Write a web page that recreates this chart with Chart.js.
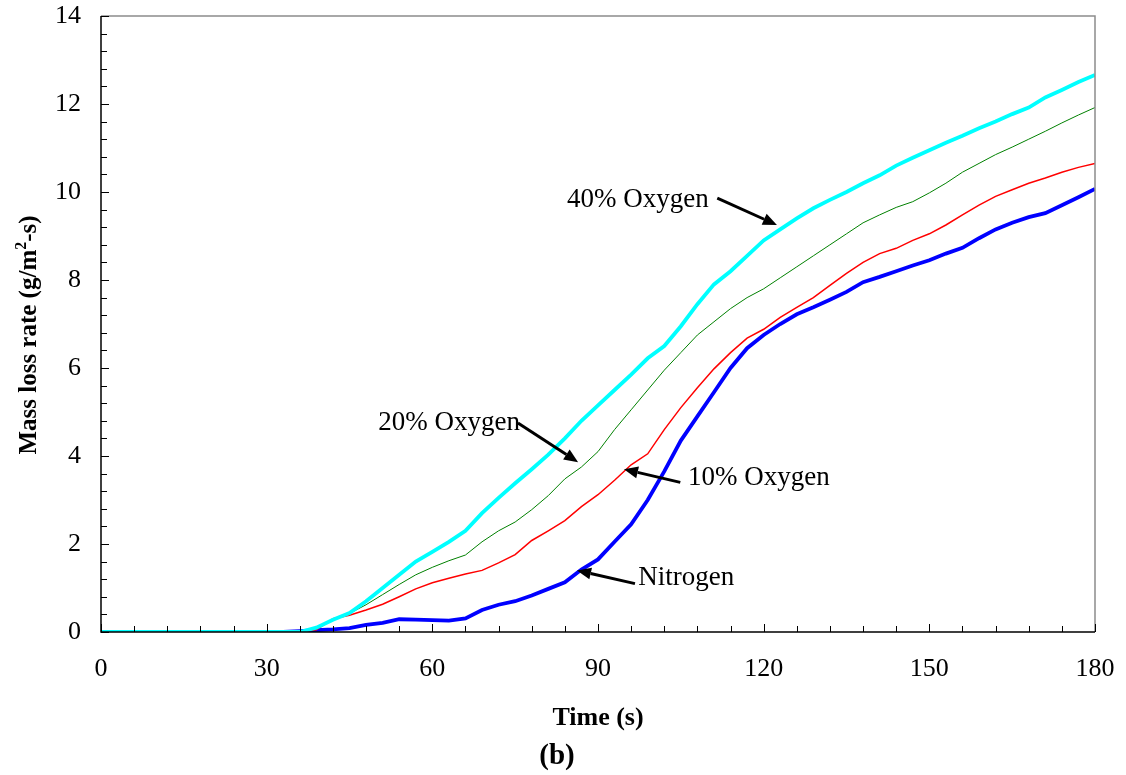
<!DOCTYPE html>
<html>
<head>
<meta charset="utf-8">
<script src="https://cdn.jsdelivr.net/npm/chart.js@4.4.1/dist/chart.umd.min.js"></script>
<style>
html,body{margin:0;padding:0;background:#fff;}
#wrap{position:relative;width:1126px;height:775px;}
</style>
</head>
<body>
<div id="wrap"><canvas id="c" width="1126" height="775"></canvas></div>
<script>
// ---- data ----
const times = [0,3,6,9,12,15,18,21,24,27,30,33,36,39,42,45,48,51,54,57,60,63,66,69,72,75,78,81,84,87,90,93,96,99,102,105,108,111,114,117,120,123,126,129,132,135,138,141,144,147,150,153,156,159,162,165,168,171,174,177,180];
const nitrogen = [0,0,0,0,0,0,0,0,0,0,0,0,0.02,0.04,0.06,0.09,0.16,0.21,0.29,0.28,0.27,0.26,0.31,0.5,0.62,0.7,0.83,0.98,1.13,1.42,1.65,2.05,2.45,3.0,3.65,4.35,4.9,5.45,6.0,6.45,6.75,7.0,7.22,7.38,7.55,7.73,7.95,8.07,8.2,8.33,8.45,8.6,8.73,8.95,9.15,9.3,9.43,9.52,9.7,9.88,10.07];
const oxygen10 = [0,0,0,0,0,0,0,0,0,0,0,0,0,0.05,0.3,0.38,0.5,0.63,0.8,0.98,1.12,1.22,1.32,1.4,1.57,1.76,2.08,2.3,2.53,2.85,3.12,3.45,3.8,4.05,4.6,5.1,5.55,5.98,6.35,6.68,6.88,7.15,7.38,7.6,7.88,8.15,8.4,8.6,8.72,8.9,9.05,9.25,9.48,9.7,9.9,10.05,10.2,10.32,10.45,10.56,10.65];
const oxygen20 = [0,0,0,0,0,0,0,0,0,0,0,0,0,0.1,0.28,0.42,0.62,0.85,1.08,1.3,1.47,1.62,1.75,2.05,2.3,2.5,2.78,3.1,3.48,3.75,4.1,4.6,5.05,5.5,5.95,6.35,6.75,7.05,7.35,7.6,7.8,8.05,8.3,8.55,8.8,9.05,9.3,9.48,9.65,9.78,9.98,10.2,10.45,10.65,10.85,11.02,11.2,11.38,11.57,11.75,11.92];
const oxygen40 = [0,0,0,0,0,0,0,0,0,0,0,0,0,0.1,0.28,0.43,0.7,1.0,1.3,1.6,1.82,2.05,2.3,2.7,3.05,3.38,3.7,4.03,4.4,4.8,5.15,5.5,5.85,6.22,6.5,6.95,7.45,7.9,8.2,8.55,8.9,9.15,9.4,9.63,9.82,10.0,10.2,10.38,10.6,10.78,10.95,11.12,11.28,11.45,11.6,11.77,11.92,12.15,12.32,12.5,12.66];
const xTicks = [0,30,60,90,120,150,180];
const yTicks = [0,2,4,6,8,10,12,14];
const xLabel = "Time (s)";
const yLabelMain = "Mass loss rate (g/m";
const yLabelSup = "2";
const yLabelEnd = "-s)";
const panelLabel = "(b)";
const labels = ["40% Oxygen","20% Oxygen","10% Oxygen","Nitrogen"];
// annotation anchors in data units
const notes = [
  {text:"40% Oxygen", tx:84.4, ty:9.82, ax0:111.6, ay0:9.86, ax1:122.4, ay1:9.25},
  {text:"20% Oxygen", tx:50.2, ty:4.75, ax0:75.5, ay0:4.75, ax1:86.4, ay1:3.86},
  {text:"10% Oxygen", tx:106.3, ty:3.5, ax0:104.9, ay0:3.4, ax1:94.7, ay1:3.7},
  {text:"Nitrogen", tx:97.3, ty:1.23, ax0:96.7, ay0:1.1, ax1:86.2, ay1:1.4}
];

const SERIF = '"Liberation Serif","Times New Roman",serif';

function mk(name, arr, color, w){
  return {label:name, data: times.map((t,i)=>({x:t,y:arr[i]})), borderColor:color, backgroundColor:color,
    borderWidth:w, pointRadius:0, tension:0, fill:false};
}

const decor = {
  id:'decor',
  afterDraw(chart){
    const ctx = chart.ctx, xs = chart.scales.x, ys = chart.scales.y, a = chart.chartArea;
    ctx.save();
    ctx.strokeStyle = '#8c8c8c'; ctx.lineWidth = 1.5;
    ctx.beginPath(); ctx.moveTo(a.left, a.top); ctx.lineTo(a.right, a.top); ctx.lineTo(a.right, a.bottom); ctx.stroke();
    ctx.strokeStyle = '#000'; ctx.lineWidth = 1.5;
    ctx.beginPath(); ctx.moveTo(a.left, a.top); ctx.lineTo(a.left, a.bottom); ctx.lineTo(a.right, a.bottom); ctx.stroke();
    ctx.lineWidth = 1;
    for (let v=0; v<=14.001; v+=0.4){
      const y = Math.round(ys.getPixelForValue(v))+0.5;
      const major = Math.abs(v/2 - Math.round(v/2)) < 1e-6;
      ctx.beginPath(); ctx.moveTo(a.left, y); ctx.lineTo(a.left + (major?8:6), y); ctx.stroke();
    }
    for (let t=0; t<=180.001; t+=6){
      const x = Math.round(xs.getPixelForValue(t))+0.5;
      const major = (t % 30) === 0;
      ctx.beginPath(); ctx.moveTo(x, a.bottom); ctx.lineTo(x, a.bottom - (major?8:6)); ctx.stroke();
    }
    ctx.fillStyle = '#000';
    ctx.font = '27px ' + SERIF;
    ctx.textBaseline = 'middle';
    notes.forEach(n=>{
      ctx.textAlign = 'left';
      ctx.fillText(n.text, xs.getPixelForValue(n.tx), ys.getPixelForValue(n.ty));
      const x0 = xs.getPixelForValue(n.ax0), y0 = ys.getPixelForValue(n.ay0);
      const x1 = xs.getPixelForValue(n.ax1), y1 = ys.getPixelForValue(n.ay1);
      const ang = Math.atan2(y1-y0, x1-x0), hl = 14, hw = 6;
      const bx = x1 - hl*Math.cos(ang), by = y1 - hl*Math.sin(ang);
      ctx.strokeStyle = '#000'; ctx.lineWidth = 3;
      ctx.beginPath(); ctx.moveTo(x0,y0); ctx.lineTo(bx,by); ctx.stroke();
      ctx.beginPath();
      ctx.moveTo(x1,y1);
      ctx.lineTo(bx + hw*Math.sin(ang), by - hw*Math.cos(ang));
      ctx.lineTo(bx - hw*Math.sin(ang), by + hw*Math.cos(ang));
      ctx.closePath(); ctx.fill();
    });
    ctx.textAlign = 'center'; ctx.textBaseline = 'middle';
    ctx.font = 'bold 26px ' + SERIF;
    ctx.fillText(xLabel, 598, 718);
    ctx.font = 'bold 29px ' + SERIF;
    ctx.fillText(panelLabel, 557, 757);
    ctx.save();
    ctx.translate(30, 335);
    ctx.rotate(-Math.PI/2);
    ctx.textAlign = 'left';
    const fMain = 'bold 25px ' + SERIF, fSup = 'bold 16px ' + SERIF;
    ctx.font = fMain; const w1 = ctx.measureText(yLabelMain).width, w3 = ctx.measureText(yLabelEnd).width;
    ctx.font = fSup; const w2 = ctx.measureText(yLabelSup).width;
    let sx = -(w1 + w2 + w3)/2;
    ctx.font = fMain; ctx.fillText(yLabelMain, sx, 0); sx += w1;
    ctx.font = fSup; ctx.fillText(yLabelSup, sx, -8); sx += w2;
    ctx.font = fMain; ctx.fillText(yLabelEnd, sx, 0);
    ctx.restore();
    ctx.restore();
  }
};

new Chart(document.getElementById('c'), {
  type:'line',
  data:{datasets:[
    mk(labels[0], oxygen40, '#00FFFF', 3.8),
    mk(labels[1], oxygen20, '#008000', 1),
    mk(labels[2], oxygen10, '#FF0000', 1.5),
    mk(labels[3], nitrogen, '#0000FF', 3.8)
  ]},
  options:{
    responsive:false, animation:false, devicePixelRatio:1,
    layout:{padding:{left:0, right:31, top:16, bottom:0}},
    plugins:{legend:{display:false}, tooltip:{enabled:false}},
    scales:{
      x:{type:'linear', min:0, max:180,
        afterBuildTicks(s){ s.ticks = xTicks.map(v=>({value:v})); },
        afterFit(s){ s.height = 775 - 632; s.paddingLeft = 0; s.paddingRight = 0; },
        grid:{display:false, drawTicks:false}, border:{display:false},
        ticks:{color:'#000', font:{family:SERIF, size:26}, padding:22, maxRotation:0, autoSkip:false}
      },
      y:{type:'linear', min:0, max:14,
        afterBuildTicks(s){ s.ticks = yTicks.map(v=>({value:v})); },
        afterFit(s){ s.width = 101; s.paddingTop = 0; s.paddingBottom = 0; },
        grid:{display:false, drawTicks:false}, border:{display:false},
        ticks:{color:'#000', font:{family:SERIF, size:26}, padding:20, autoSkip:false}
      }
    }
  },
  plugins:[decor]
});
</script>
</body>
</html>
